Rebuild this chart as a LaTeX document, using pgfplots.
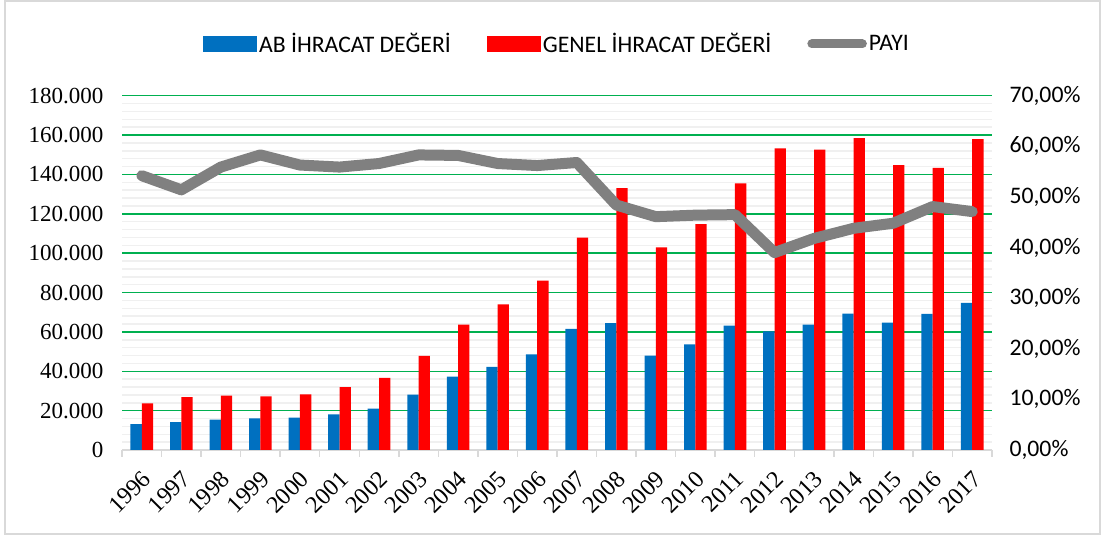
\documentclass[border=0pt]{standalone}
\usepackage{pgfplots}
\pgfplotsset{compat=1.18}
\usepackage{pgfplotstable}
\usepackage{fontspec}
\setmainfont{Liberation Serif}
\newfontfamily\calibri{Carlito}

\definecolor{abblue}{RGB}{0,112,192}
\definecolor{genred}{RGB}{255,0,0}
\definecolor{payigray}{RGB}{128,128,128}
\definecolor{gridgreen}{RGB}{0,176,80}
\definecolor{framegray}{RGB}{217,217,217}

% year, AB exports, total exports, share (%)
\pgfplotstableread{
x year ab genel payi
0 1996 13200 23700 54.2
1 1997 14100 26800 51.4
2 1998 15400 27600 55.9
3 1999 16100 27300 58.3
4 2000 16400 28300 56.3
5 2001 18100 31900 55.9
6 2002 21000 36600 56.6
7 2003 28100 47800 58.3
8 2004 37300 63700 58.2
9 2005 42200 74000 56.6
10 2006 48600 86000 56.2
11 2007 61500 107900 56.8
12 2008 64400 133000 48.4
13 2009 47900 103000 46.1
14 2010 53700 114700 46.4
15 2011 63200 135500 46.5
16 2012 60300 153300 39.0
17 2013 63700 152600 41.8
18 2014 69300 158400 43.8
19 2015 64700 144700 44.8
20 2016 69100 143300 48.1
21 2017 74700 157900 47.1
}\data

\begin{document}
\begin{tikzpicture}
\useasboundingbox (0,0) rectangle (1103bp,537bp);
\draw[framegray, line width=2bp] (5bp,2.5bp) rectangle (1100bp,535.5bp);

\begin{axis}[
    at={(122bp,87bp)}, anchor=south west,
    scale only axis, width=870bp, height=354.3bp,
    xmin=-0.5, xmax=21.5, ymin=0, ymax=180000,
    enlargelimits=false, clip=false,
    scaled y ticks=false,
    ybar=0pt, bar width=0.286,
    xtick={0,...,21},
    xticklabels={1996,1997,1998,1999,2000,2001,2002,2003,2004,2005,2006,2007,2008,2009,2010,2011,2012,2013,2014,2015,2016,2017},
    extra x ticks={-0.5,0.5,...,21.5},
    extra x tick labels={},
    extra x tick style={major tick length=7bp, tick style={draw=framegray, line width=1.5bp}},
    ytick={0,20000,40000,60000,80000,100000,120000,140000,160000,180000},
    yticklabels={0,20.000,40.000,60.000,80.000,100.000,120.000,140.000,160.000,180.000},
    minor y tick num=4,
    ymajorgrids, yminorgrids,
    major grid style={draw=gridgreen, line width=1.5bp},
    minor grid style={draw=gray!12, line width=1.5bp},
    axis x line*=bottom, axis y line*=left,
    y axis line style={draw=none},
    x axis line style={draw=framegray, line width=1.5bp, -},
    major tick length=0pt, minor tick length=0pt,
    tick align=outside,
    /pgf/number format/assume math mode=true,
    yticklabel style={font=\fontsize{23bp}{27bp}\selectfont, xshift=-15bp},
    xticklabel style={font=\fontsize{24bp}{28bp}\selectfont, xshift=-1bp, yshift=-19bp, rotate=45, anchor=north east, inner sep=0pt},
    legend style={at={(0.5,1)}, anchor=center, yshift=51.7bp, draw=none, fill=none,
        font=\calibri\fontsize{23.7bp}{28bp}\selectfont,
        /tikz/every even column/.append style={column sep=34bp}},
    legend columns=3,
    legend cell align=left,
]
\addplot[fill=abblue, draw=none,
    legend image code/.code={\fill[abblue] (0bp,-8bp) rectangle (54bp,8bp);}]
    table[x=x, y=ab] {\data};
\addlegendentry{AB İHRACAT DEĞERİ}
\addplot[fill=genred, draw=none,
    legend image code/.code={\fill[genred] (0bp,-8bp) rectangle (54bp,8bp);}]
    table[x=x, y=genel] {\data};
\addlegendentry{GENEL İHRACAT DEĞERİ}
\addlegendimage{legend image code/.code={\draw[payigray, line width=9bp, line cap=round] (4.5bp,0bp) -- (55bp,0bp);}}
\addlegendentry{PAYI}
\end{axis}

\begin{axis}[
    at={(122bp,87bp)}, anchor=south west,
    scale only axis, width=870bp, height=354.3bp,
    xmin=-0.5, xmax=21.5, ymin=0, ymax=70,
    enlargelimits=false, clip=false,
    hide x axis, axis y line*=right,
    y axis line style={draw=none},
    ytick={0,10,...,70},
    yticklabels={{0,00\%},{10,00\%},{20,00\%},{30,00\%},{40,00\%},{50,00\%},{60,00\%},{70,00\%}},
    major tick length=0pt,
    /pgf/number format/assume math mode=true,
    yticklabel style={font=\calibri\fontsize{23.7bp}{28bp}\selectfont, xshift=14bp},
]
\addplot[payigray, line width=11bp, line join=round, line cap=round]
    table[x=x, y=payi] {\data};
\end{axis}
\end{tikzpicture}
\end{document}
